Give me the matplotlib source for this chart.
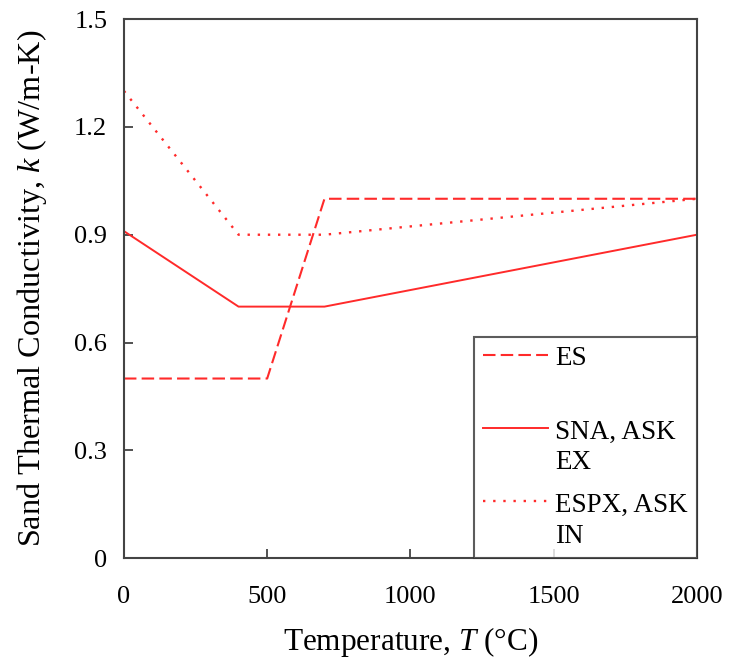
import numpy as np
import matplotlib.pyplot as plt
from matplotlib.legend_handler import HandlerLine2D

plt.rcParams['font.family'] = ['Liberation Serif', 'DejaVu Serif']
plt.rcParams['mathtext.fontset'] = 'custom'
plt.rcParams['mathtext.it'] = 'Liberation Serif:italic'
plt.rcParams['mathtext.rm'] = 'Liberation Serif'

# data
es_t = [0, 500, 700, 2000]
es_k = [0.5, 0.5, 1.0, 1.0]
sna_t = [0, 400, 700, 2000]
sna_k = [0.91, 0.7, 0.7, 0.9]
espx_t = [0, 400, 700, 2000]
espx_k = [1.3, 0.9, 0.9, 1.0]

labels = ["ES\n ", "SNA, ASK\nEX", "ESPX, ASK\nIN"]
x_ticks = [0, 500, 1000, 1500, 2000]
y_ticks = [0, 0.3, 0.6, 0.9, 1.2, 1.5]
y_ticklabels = ["0", "0.3", "0.6", "0.9", "1.2", "1.5"]


# legend handle sits on the first line of a two-line label
class TopLineHandler(HandlerLine2D):
    def create_artists(self, legend, orig_handle, xdescent, ydescent, width, height, fontsize, trans):
        artists = super().create_artists(legend, orig_handle, xdescent, ydescent, width, height, fontsize, trans)
        for a in artists:
            a.set_ydata(np.asarray(a.get_ydata()) + 0.72 * fontsize)
        return artists


fig = plt.figure(figsize=(7.29, 6.67), dpi=100)
ax = fig.add_axes([0.170, 0.163, 0.786, 0.8085])

red = '#ff2a2a'
ax.plot(es_t, es_k, color=red, linestyle=(0, (6, 2.5)), linewidth=1.5, label=labels[0])
ax.plot(sna_t, sna_k, color=red, linestyle='-', linewidth=1.4, label=labels[1])
ax.plot(espx_t, espx_k, color=red, linestyle=(0, (1, 3.3)), linewidth=1.7, label=labels[2])

ax.set_xlim(0, 2000)
ax.set_ylim(0, 1.5)
ax.set_xticks(x_ticks)
ax.set_yticks(y_ticks)
ax.set_yticklabels(y_ticklabels)
ax.tick_params(direction='in', length=6.5, width=1.2, labelsize=19, colors='#333333', labelcolor='black')
ax.tick_params(axis='y', pad=12)
ax.tick_params(axis='x', pad=20)
for s in ax.spines.values():
    s.set_linewidth(1.5)
    s.set_color('#444444')

ax.set_xlabel(r"Temperature, $T$ (°C)", fontsize=22.5, labelpad=12)
ax.set_ylabel(r"Sand Thermal Conductivity, $k$ (W/m-K)", fontsize=23.2, labelpad=18)

handler = TopLineHandler()
leg = ax.legend(loc='lower right', bbox_to_anchor=(1.0, 0.0), fontsize=19.5, frameon=True,
                fancybox=False, borderaxespad=0, handlelength=2.4, labelspacing=0.65,
                borderpad=0.35, handletextpad=0.25,
                handler_map={h: handler for h in ax.get_lines()})
for t in leg.get_texts():
    t.set_linespacing(1.3)
leg.get_frame().set_edgecolor('#333333')
leg.get_frame().set_linewidth(1.5)

fig.savefig("out.png", dpi=100)
